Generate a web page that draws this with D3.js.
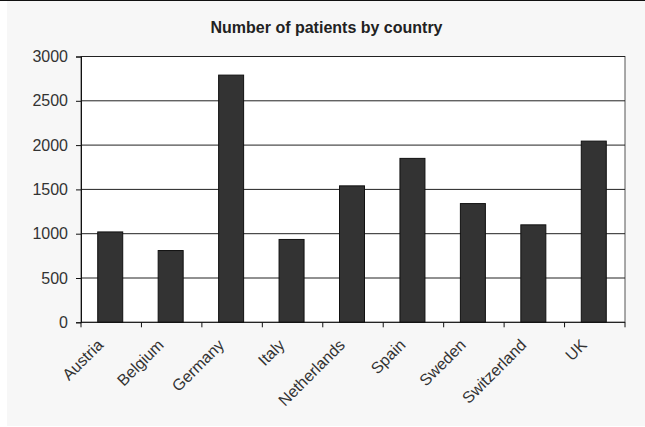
<!DOCTYPE html>
<html>
<head>
<meta charset="utf-8">
<script src="https://cdn.jsdelivr.net/npm/d3@7"></script>
<style>
  html, body { margin: 0; padding: 0; background: #ffffff; }
  svg { display: block; }
</style>
</head>
<body>
<script>
const categories = ["Austria", "Belgium", "Germany", "Italy", "Netherlands", "Spain", "Sweden", "Switzerland", "UK"];
const patients = [1020, 810, 2790, 935, 1540, 1850, 1340, 1100, 2045];
const yTicks = [0, 500, 1000, 1500, 2000, 2500, 3000];
const title = "Number of patients by country";

(function () {
const W = 645, H = 427;
const pLeft = 81, pRight = 625, pTop = 56.5, pBottom = 322.3;
const font = "'Liberation Sans', Arial, sans-serif";

const svg = d3.select("body").append("svg").attr("width", W).attr("height", H);

svg.append("rect").attr("x", 0).attr("y", 0).attr("width", W).attr("height", H).attr("fill", "#ffffff");
svg.append("rect").attr("x", 7).attr("y", 1).attr("width", W - 7).attr("height", H - 2).attr("fill", "#f7f7f7");
svg.append("line").attr("x1", 0).attr("x2", W).attr("y1", 0.5).attr("y2", 0.5).attr("stroke", "#111").attr("stroke-width", 1);

const xCat = d3.scaleBand().domain(categories).range([pLeft, pRight]).padding(0);
const y = d3.scaleLinear().domain([0, 3000]).range([pBottom, pTop]);

// plot area
svg.append("rect").attr("x", pLeft).attr("y", pTop).attr("width", pRight - pLeft).attr("height", pBottom - pTop)
  .attr("fill", "#ffffff").attr("stroke", "#555").attr("stroke-width", 1);

// gridlines
svg.append("g").selectAll("line").data(yTicks.filter(d => d > 0)).join("line")
  .attr("x1", pLeft).attr("x2", pRight)
  .attr("y1", d => y(d)).attr("y2", d => y(d))
  .attr("stroke", "#222").attr("stroke-width", 1);

// bars
const barW = 25;
svg.append("g").selectAll("rect").data(categories).join("rect")
  .attr("x", d => xCat(d) + (xCat.bandwidth() - barW) / 2 - 1)
  .attr("y", (d, i) => y(patients[i]))
  .attr("width", barW)
  .attr("height", (d, i) => pBottom - y(patients[i]))
  .attr("fill", "#333333").attr("stroke", "#111").attr("stroke-width", 1);

// y axis
const yAxis = d3.axisLeft(y).tickValues(yTicks).tickSize(5).tickPadding(8).tickFormat(d3.format("d"));
const gy = svg.append("g").attr("transform", `translate(${pLeft},0)`).call(yAxis);
gy.select(".domain").attr("stroke", "#111");
gy.selectAll(".tick line").attr("stroke", "#111");
gy.selectAll("text").attr("font-family", font).attr("font-size", 16).attr("fill", "#333");

// x axis ticks at category boundaries
const boundaries = categories.map(c => xCat(c)).concat([pRight]);
const gx = svg.append("g");
gx.append("line").attr("x1", pLeft).attr("x2", pRight).attr("y1", pBottom).attr("y2", pBottom).attr("stroke", "#111");
gx.selectAll("line.tk").data(boundaries).join("line").attr("class", "tk")
  .attr("x1", d => d).attr("x2", d => d).attr("y1", pBottom).attr("y2", pBottom + 5)
  .attr("stroke", "#111");

// x labels rotated
gx.selectAll("text").data(categories).join("text")
  .attr("transform", d => `translate(${xCat(d) + xCat.bandwidth() / 2 - 7},346) rotate(-45)`)
  .attr("text-anchor", "end")
  .attr("font-family", font).attr("font-size", 16).attr("fill", "#333")
  .text(d => d);

// title
svg.append("text").attr("x", 326.5).attr("y", 33).attr("text-anchor", "middle")
  .attr("font-family", font).attr("font-size", 16).attr("font-weight", "bold").attr("fill", "#222")
  .text(title);
})();
</script>
</body>
</html>
